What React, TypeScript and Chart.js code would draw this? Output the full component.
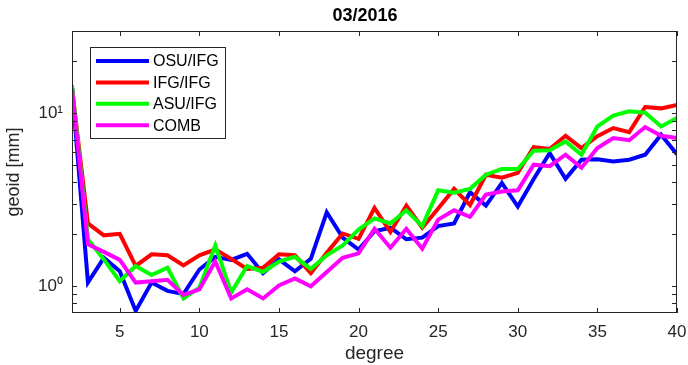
import React, { useEffect, useRef } from 'react';
import { Chart, registerables } from 'chart.js';

Chart.register(...registerables);

const titleText = '03/2016';
const xLabel = 'degree';
const yLabel = 'geoid [mm]';

const degrees = [2, 3, 4, 5, 6, 7, 8, 9, 10, 11, 12, 13, 14, 15, 16, 17, 18, 19, 20, 21, 22, 23, 24, 25, 26, 27, 28, 29, 30, 31, 32, 33, 34, 35, 36, 37, 38, 39, 40];

const osuIfg = [14.2, 1.05, 1.46, 1.22, 0.72, 1.05, 0.94, 0.9, 1.25, 1.48, 1.42, 1.54, 1.19, 1.43, 1.22, 1.44, 2.68, 1.91, 1.63, 2.08, 2.18, 1.87, 1.91, 2.23, 2.31, 3.5, 2.93, 3.96, 2.89, 4.18, 5.9, 4.18, 5.4, 5.43, 5.28, 5.4, 5.77, 7.53, 5.8];
const ifgIfg = [14.0, 2.31, 1.97, 2.01, 1.31, 1.53, 1.51, 1.32, 1.51, 1.63, 1.44, 1.26, 1.28, 1.53, 1.51, 1.19, 1.56, 2.02, 1.88, 2.84, 2.06, 2.93, 2.18, 2.82, 3.66, 2.95, 4.42, 4.25, 4.53, 6.39, 6.23, 7.43, 6.3, 7.38, 8.23, 7.8, 10.9, 10.7, 11.2];
const asuIfg = [14.6, 1.87, 1.43, 1.07, 1.31, 1.16, 1.28, 0.85, 0.98, 1.72, 0.92, 1.31, 1.21, 1.39, 1.48, 1.26, 1.51, 1.72, 2.13, 2.47, 2.31, 2.75, 2.23, 3.59, 3.48, 3.66, 4.42, 4.77, 4.77, 6.09, 6.13, 6.88, 5.77, 8.41, 9.73, 10.3, 10.1, 8.41, 9.4];
const comb = [14.0, 1.75, 1.58, 1.42, 1.05, 1.07, 1.09, 0.89, 0.96, 1.39, 0.85, 0.96, 0.85, 1.01, 1.11, 1.0, 1.21, 1.46, 1.55, 2.15, 1.67, 2.15, 1.65, 2.43, 2.75, 2.52, 3.39, 3.53, 3.59, 5.05, 4.95, 5.77, 4.85, 6.3, 7.2, 7.0, 8.34, 7.43, 7.2];

const seriesLabels = ['OSU/IFG', 'IFG/IFG', 'ASU/IFG', 'COMB'];
const seriesColors = ['#0000ff', '#ff0000', '#00ff00', '#ff00ff'];

const xTickValues = [5, 10, 15, 20, 25, 30, 35, 40];
const yTickValues = [0.8, 0.9, 1, 2, 3, 4, 5, 6, 7, 8, 9, 10, 20, 30];
const yTickLabels: Record<string, string> = { '1': '10⁰', '10': '10¹' };

const FONT = '"Liberation Sans", Arial, Helvetica, sans-serif';
const AXIS_COLOR = '#262626';

const matlabPlugin = {
  id: 'matlabDecor',
  afterDatasetsDraw(chart: any) {
    const { ctx, chartArea: a } = chart;
    const x = chart.scales.x;
    const y = chart.scales.y;
    ctx.save();
    ctx.strokeStyle = AXIS_COLOR;
    ctx.lineWidth = 1;
    const tl = 5;
    ctx.beginPath();
    for (const v of xTickValues) {
      const px = Math.round(x.getPixelForValue(v)) + 0.5;
      ctx.moveTo(px, a.bottom);
      ctx.lineTo(px, a.bottom - tl);
      ctx.moveTo(px, a.top);
      ctx.lineTo(px, a.top + tl);
    }
    for (const v of yTickValues) {
      const py = Math.round(y.getPixelForValue(v)) + 0.5;
      ctx.moveTo(a.left, py);
      ctx.lineTo(a.left + tl, py);
      ctx.moveTo(a.right, py);
      ctx.lineTo(a.right - tl, py);
    }
    ctx.stroke();
    ctx.strokeRect(a.left + 0.5, a.top + 0.5, a.right - a.left - 1, a.bottom - a.top - 1);

    // title
    ctx.fillStyle = '#000000';
    ctx.font = `bold 18px ${FONT}`;
    ctx.textAlign = 'center';
    ctx.textBaseline = 'middle';
    ctx.fillText(titleText, 365, 16);

    // legend
    const lx = 90.5, ly = 47.5, lw = 135, lh = 91;
    ctx.fillStyle = '#ffffff';
    ctx.fillRect(lx, ly, lw, lh);
    ctx.strokeStyle = AXIS_COLOR;
    ctx.lineWidth = 1;
    ctx.strokeRect(lx, ly, lw, lh);
    ctx.font = `16px ${FONT}`;
    ctx.textAlign = 'left';
    ctx.textBaseline = 'middle';
    chart.data.datasets.forEach((ds: any, i: number) => {
      const ry = 61 + i * 21.4;
      ctx.strokeStyle = ds.borderColor;
      ctx.lineWidth = 4;
      ctx.beginPath();
      ctx.moveTo(96, ry);
      ctx.lineTo(149, ry);
      ctx.stroke();
      ctx.fillStyle = '#000000';
      ctx.fillText(ds.label, 153, ry + 1);
    });
    ctx.restore();
  },
};

export default function App() {
  const canvasRef = useRef<HTMLCanvasElement | null>(null);

  useEffect(() => {
    document.body.style.margin = '0';
    const canvas = canvasRef.current;
    if (!canvas) return;
    const allSeries = [osuIfg, ifgIfg, asuIfg, comb];
    const chart = new Chart(canvas, {
      type: 'line',
      data: {
        datasets: allSeries.map((s, i) => ({
          label: seriesLabels[i],
          data: degrees.map((d, j) => ({ x: d, y: s[j] })),
          borderColor: seriesColors[i],
          backgroundColor: seriesColors[i],
          borderWidth: 4,
          pointRadius: 0,
          tension: 0,
          fill: false,
          order: 3 - i,
        })),
      },
      options: {
        animation: false,
        responsive: true,
        maintainAspectRatio: false,
        devicePixelRatio: 1,
        layout: { padding: { left: 0, right: 11, top: 31, bottom: 0 } },
        plugins: {
          legend: { display: false },
          title: { display: false },
          tooltip: { enabled: false },
        },
        scales: {
          x: {
            type: 'linear',
            min: 2,
            max: 40,
            grid: { display: false, drawTicks: false },
            border: { display: false },
            afterBuildTicks: (scale: any) => {
              scale.ticks = xTickValues.map((v) => ({ value: v }));
            },
            afterFit: (scale: any) => {
              scale.height = 52;
              scale.paddingLeft = 0;
              scale.paddingRight = 0;
            },
            ticks: {
              autoSkip: false,
              maxRotation: 0,
              padding: 9,
              color: AXIS_COLOR,
              font: { family: FONT, size: 17 },
              callback: (v: any) => String(v),
            },
            title: {
              display: true,
              text: xLabel,
              color: AXIS_COLOR,
              font: { family: FONT, size: 19 },
              padding: { top: 0, bottom: 0 },
            },
          },
          y: {
            type: 'logarithmic',
            min: 0.7,
            max: 30,
            grid: { display: false, drawTicks: false },
            border: { display: false },
            afterBuildTicks: (scale: any) => {
              scale.ticks = yTickValues.map((v) => ({ value: v }));
            },
            afterFit: (scale: any) => {
              scale.width = 72;
              scale.paddingTop = 0;
              scale.paddingBottom = 0;
            },
            ticks: {
              autoSkip: false,
              padding: 9,
              color: AXIS_COLOR,
              font: { family: FONT, size: 17 },
              callback: (v: any) => yTickLabels[String(v)] ?? '',
            },
            title: {
              display: true,
              text: yLabel,
              color: AXIS_COLOR,
              font: { family: FONT, size: 18 },
              padding: { top: 3, bottom: 0 },
            },
          },
        },
      } as any,
      plugins: [matlabPlugin],
    });
    return () => chart.destroy();
  }, []);

  return (
    <div style={{ position: 'fixed', left: 0, top: 0, width: 688, height: 365, background: '#ffffff' }}>
      <canvas ref={canvasRef} />
    </div>
  );
}
